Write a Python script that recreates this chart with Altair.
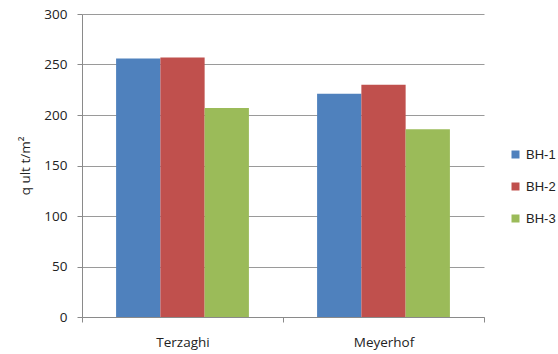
import altair as alt
import pandas as pd

# Ultimate bearing capacity by method and borehole
methods = ["Terzaghi", "Meyerhof"]
boreholes = ["BH-1", "BH-2", "BH-3"]
bh1 = [256, 221]
bh2 = [257, 230]
bh3 = [207, 186]
colors = ["#4F81BD", "#C0504D", "#9BBB59"]

rows = []
for i, m in enumerate(methods):
    for bh, vals in zip(boreholes, [bh1, bh2, bh3]):
        rows.append({"method": m, "borehole": bh, "qult": vals[i]})
df = pd.DataFrame(rows)

FONT = "Open Sans"
SIZE = 13.5

chart = (
    alt.Chart(df)
    .mark_bar()
    .encode(
        x=alt.X(
            "method:N",
            sort=methods,
            scale=alt.Scale(paddingInner=0, paddingOuter=0),
            axis=alt.Axis(
                title=None,
                labelAngle=0,
                tickBand="extent",
                tickSize=5,
                labelPadding=13,
                labelFontSize=SIZE,
                labelFont=FONT,
                labelColor="#222",
                domainColor="#8a8a8a",
                tickColor="#8a8a8a",
                grid=False,
            ),
        ),
        xOffset=alt.XOffset(
            "borehole:N",
            sort=boreholes,
            scale=alt.Scale(paddingInner=0, paddingOuter=0.77),
        ),
        y=alt.Y(
            "qult:Q",
            scale=alt.Scale(domain=[0, 300], nice=False),
            axis=alt.Axis(
                title="q ult t/m²",
                values=[0, 50, 100, 150, 200, 250, 300],
                tickSize=5,
                labelPadding=10,
                labelFontSize=SIZE,
                labelFont=FONT,
                labelColor="#222",
                titleFont=FONT,
                titleFontSize=SIZE,
                titleFontWeight="normal",
                titleColor="#222",
                titlePadding=11,
                domainColor="#8a8a8a",
                tickColor="#8a8a8a",
                gridColor="#9a9a9a",
                gridWidth=1,
            ),
        ),
        color=alt.Color(
            "borehole:N",
            sort=boreholes,
            scale=alt.Scale(domain=boreholes, range=colors),
            legend=alt.Legend(
                title=None,
                orient="none",
                legendX=427,
                legendY=134,
                symbolType="square",
                symbolSize=64,
                symbolStrokeWidth=0,
                labelFont="Liberation Sans",
                labelFontSize=13,
                labelColor="#222",
                labelOffset=4,
                rowPadding=18,
                padding=0,
            ),
        ),
    )
    .properties(
        width=402,
        height=303,
        autosize=alt.AutoSizeParams(type="none"),
        padding={"left": 82, "top": 14, "right": 74, "bottom": 37},
    )
    .configure_view(stroke=None)
)

chart.save("out.html", embed_options={"renderer": "svg", "actions": False})
